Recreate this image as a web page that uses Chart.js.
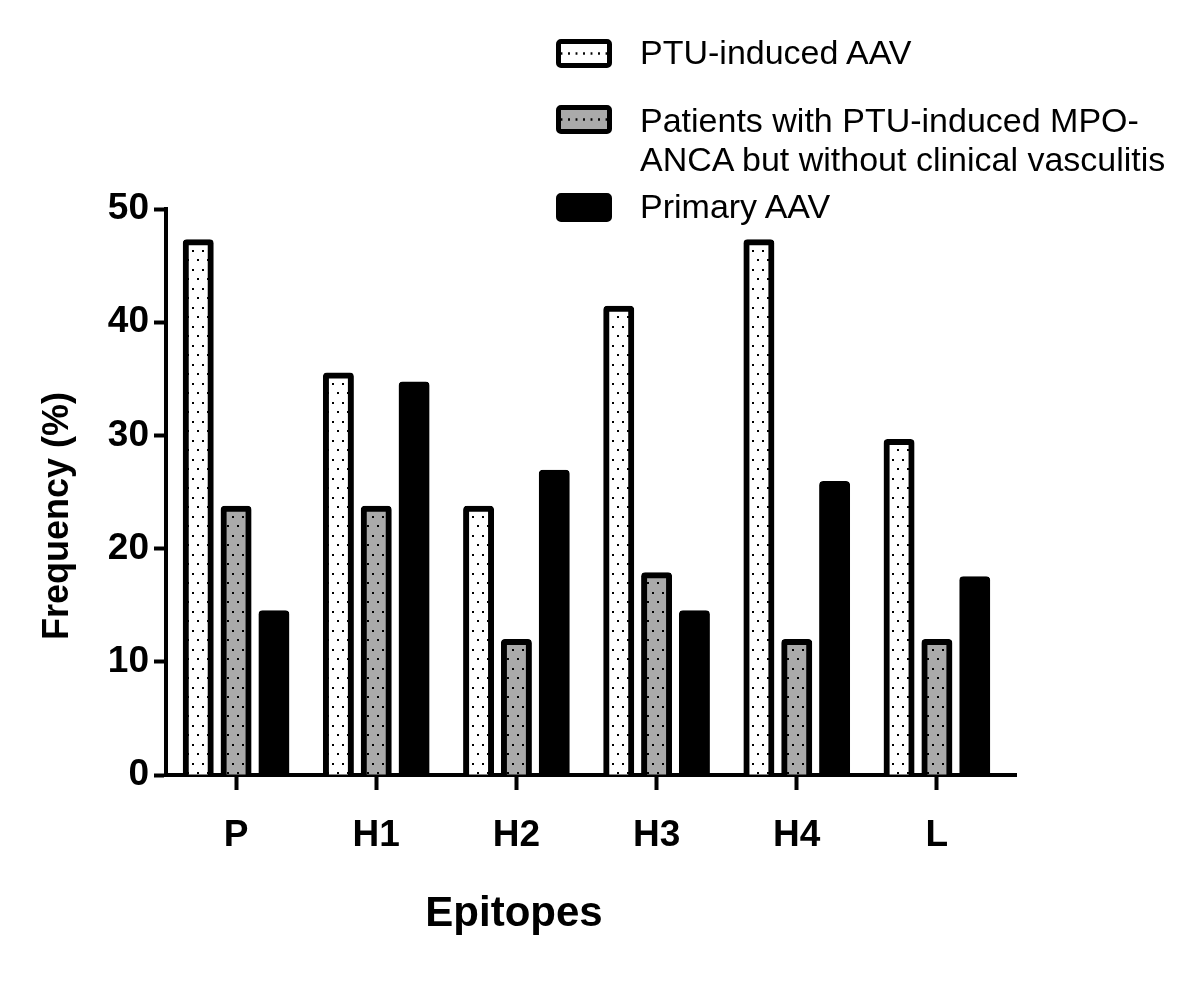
<!DOCTYPE html>
<html>
<head>
<meta charset="utf-8">
<script src="https://cdn.jsdelivr.net/npm/chart.js@4.4.0/dist/chart.umd.min.js"></script>
<style>
  body { margin: 0; background: #fff; }
  #wrap { position: relative; width: 1200px; height: 986px; }
  .item { position: absolute; left: 556px; font-family: 'Liberation Sans', Arial, sans-serif; font-size: 34px; line-height: 39px; color: #000; }
  .sw { position: absolute; left: 0; width: 56px; height: 29px; box-sizing: border-box; border: 5px solid #000; border-radius: 5px; }
  .dots { background-image: radial-gradient(circle, #000 1px, transparent 1.4px); background-size: 7.5px 100%; background-position: center; background-repeat: repeat-x; }
  .txt { position: absolute; left: 84px; white-space: nowrap; }
</style>
</head>
<body>
<div id="wrap">
  <canvas id="myChart" width="1200" height="986"></canvas>
  <div class="item" style="top:33px">
    <div class="sw dots" style="top:6px; background-color:#fff"></div>
    <div class="txt">PTU-induced AAV</div>
  </div>
  <div class="item" style="top:101px">
    <div class="sw dots" style="top:4px; background-color:#aaa"></div>
    <div class="txt">Patients with PTU-induced MPO-<br>ANCA but without clinical vasculitis</div>
  </div>
  <div class="item" style="top:187px">
    <div class="sw" style="top:6px; background-color:#000"></div>
    <div class="txt">Primary AAV</div>
  </div>
</div>
<script>
// valeurs
const categories = ["P", "H1", "H2", "H3", "H4", "L"];
const ptuAAV = [47.06, 35.29, 23.53, 41.18, 47.06, 29.41];
const ptuNoVasculitis = [23.53, 23.53, 11.76, 17.65, 11.76, 11.76];
const primaryAAV = [14.29, 34.5, 26.7, 14.29, 25.7, 17.3];
const yTicks = [0, 10, 20, 30, 40, 50];

const fontFamily = "'Liberation Sans', Arial, sans-serif";

// motif à points
function dotPattern(bg) {
    var c = document.createElement("canvas");
    c.width = 10;
    c.height = 19;
    var g = c.getContext("2d");
    g.fillStyle = bg;
    g.fillRect(0, 0, 10, 19);
    g.fillStyle = "#000";
    g.fillRect(2, 3, 2, 2);
    g.fillRect(7, 12, 2, 2);
    return g.createPattern(c, "repeat");
}

// titres des axes + petit prolongement de l'axe x
const axisTitles = {
    id: "axisTitles",
    afterDraw: function(chart) {
        var ctx = chart.ctx;
        var area = chart.chartArea;
        ctx.save();
        ctx.strokeStyle = "#000";
        ctx.lineWidth = 4;
        ctx.beginPath();
        ctx.moveTo(area.right - 2, area.bottom);
        ctx.lineTo(area.right + 10, area.bottom);
        ctx.stroke();

        ctx.fillStyle = "#000";
        ctx.textAlign = "center";
        ctx.textBaseline = "middle";
        ctx.font = "bold 42px " + fontFamily;
        ctx.fillText("Epitopes", 514, 914);
        ctx.translate(58, 516);
        ctx.rotate(-Math.PI / 2);
        ctx.font = "bold 36px " + fontFamily;
        ctx.fillText("Frequency (%)", 0, 0);
        ctx.restore();
    }
};

function createBarChart(myChart) {
    var ctx = myChart.getContext("2d");
    // bordure centrée sur le bord de la barre (inflateAmount)
    var common = {
        borderColor: "#000",
        borderWidth: 6,
        inflateAmount: 3,
        borderRadius: 4,
        borderSkipped: "bottom",
        categoryPercentage: 0.81,
        barPercentage: 0.66
    };
    return new Chart(ctx, {
        type: "bar",
        data: {
            labels: categories,
            datasets: [
                Object.assign({ label: "PTU-induced AAV", data: ptuAAV, backgroundColor: dotPattern("#fff") }, common),
                Object.assign({ label: "Patients with PTU-induced MPO-ANCA but without clinical vasculitis", data: ptuNoVasculitis, backgroundColor: dotPattern("#aaa") }, common),
                Object.assign({ label: "Primary AAV", data: primaryAAV, backgroundColor: "#000" }, common)
            ]
        },
        options: {
            responsive: false,
            animation: false,
            layout: { padding: { top: 209, right: 193, bottom: 0, left: 0 } },
            plugins: {
                legend: { display: false },
                tooltip: { enabled: false }
            },
            scales: {
                x: {
                    afterFit: function(scale) { scale.height = 211; },
                    grid: { display: true, offset: false, drawOnChartArea: false, drawTicks: true, tickLength: 15, tickWidth: 4, tickColor: "#000" },
                    border: { display: true, color: "#000", width: 4 },
                    ticks: { color: "#000", padding: 24, font: { family: fontFamily, size: 37, weight: "bold" } }
                },
                y: {
                    min: 0,
                    max: 50,
                    afterFit: function(scale) { scale.width = 166; },
                    afterBuildTicks: function(scale) { scale.ticks = yTicks.map(function(v) { return { value: v }; }); },
                    grid: { display: true, drawOnChartArea: false, drawTicks: true, tickLength: 12, tickWidth: 4, tickColor: "#000" },
                    border: { display: true, color: "#000", width: 4 },
                    ticks: { color: "#000", padding: 5, font: { family: fontFamily, size: 37, weight: "bold" } }
                }
            }
        },
        plugins: [axisTitles]
    });
}

createBarChart(document.getElementById("myChart"));
</script>
</body>
</html>
